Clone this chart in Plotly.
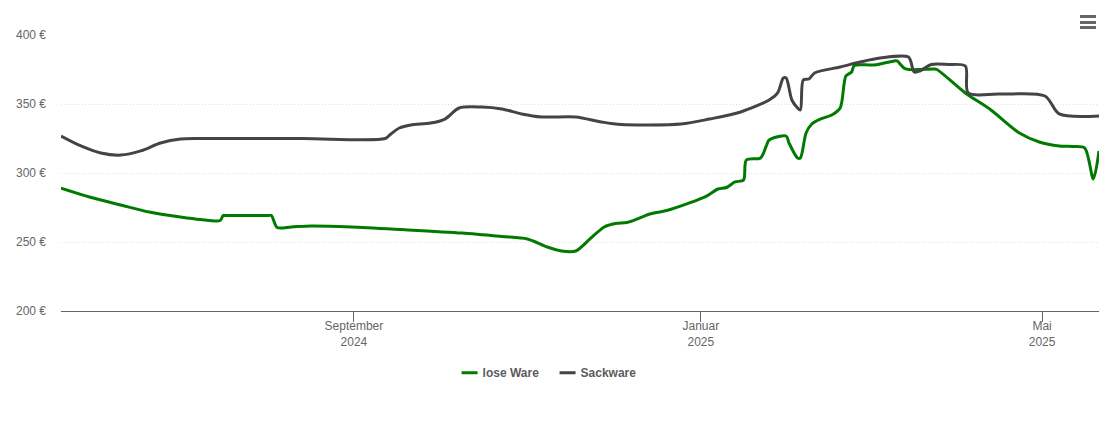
import plotly.graph_objects as go

# Preisverlauf, Werte
lose_dates = [
    "2024-05-21", "2024-05-31", "2024-06-11", "2024-06-21", "2024-07-02", "2024-07-09", "2024-07-16", "2024-07-17",
    "2024-07-18", "2024-07-23", "2024-08-02", "2024-08-03", "2024-08-05", "2024-08-10", "2024-08-17", "2024-08-31", "2024-09-18", "2024-10-09",
    "2024-10-23", "2024-11-01", "2024-11-08", "2024-11-13", "2024-11-18", "2024-11-23", "2024-11-28", "2024-12-02",
    "2024-12-06", "2024-12-10", "2024-12-14", "2024-12-20", "2024-12-28", "2025-01-03", "2025-01-07", "2025-01-10",
    "2025-01-13", "2025-01-16", "2025-01-17", "2025-01-22", "2025-01-24", "2025-01-25", "2025-01-31", "2025-02-01",
    "2025-02-04", "2025-02-05", "2025-02-07", "2025-02-09", "2025-02-12", "2025-02-16", "2025-02-19", "2025-02-21",
    "2025-02-23", "2025-02-24", "2025-03-03", "2025-03-10", "2025-03-11", "2025-03-14", "2025-03-24", "2025-03-25",
    "2025-04-04", "2025-04-13", "2025-04-23", "2025-04-30", "2025-05-07", "2025-05-12", "2025-05-16", "2025-05-19",
    "2025-05-21",
]
lose_ware = [
    289, 282.6, 276.8, 271.7, 268.1, 266.3, 265.6, 269.2,
    269.2, 269.2, 269.2, 269.2, 260.5, 260.9, 261.6, 260.9, 259, 256.5,
    254, 252.2, 246.4, 243.5, 243.5, 252.2, 260.9, 263.4,
    264.1, 267, 270.3, 272.8, 278.3, 283.3, 288.4, 289.5,
    293.5, 294.9, 309.4, 310.9, 319.6, 323.9, 326.8, 321.7,
    310.9, 310.9, 329, 335.5, 339.1, 342, 347.1, 370.3,
    373.2, 377.9, 378.3, 381.2, 381.2, 375.4, 375.4, 375,
    358, 345.7, 329, 322.5, 319.6, 319.2, 318.1, 295.7,
    316,
]

sack_dates = [
    "2024-05-21", "2024-05-28", "2024-06-04", "2024-06-11", "2024-06-18", "2024-06-25", "2024-07-02", "2024-07-09",
    "2024-08-14", "2024-09-12", "2024-09-14", "2024-09-17", "2024-09-21", "2024-09-28", "2024-10-03", "2024-10-08",
    "2024-10-16", "2024-10-23", "2024-10-30", "2024-11-06", "2024-11-18", "2024-11-27", "2024-12-04", "2024-12-25",
    "2025-01-04", "2025-01-15", "2025-01-25", "2025-01-28", "2025-01-30", "2025-01-31", "2025-02-02", "2025-02-04",
    "2025-02-05", "2025-02-06", "2025-02-08", "2025-02-10", "2025-02-19", "2025-02-26", "2025-03-05", "2025-03-15",
    "2025-03-17", "2025-03-19", "2025-03-23", "2025-03-29", "2025-04-04", "2025-04-05", "2025-04-16", "2025-05-02",
    "2025-05-07", "2025-05-21",
]
sackware = [
    326.8, 319.6, 314.5, 313, 316, 321.7, 324.6, 325,
    325, 325, 328.3, 332.6, 334.8, 336.2, 339.1, 347.1,
    347.8, 346.4, 342.8, 340.6, 340.6, 337, 335.1, 335.5,
    339.1, 344.2, 352.9, 358, 368.8, 368.8, 352.9, 347.1,
    345.7, 367.4, 368.1, 372.5, 376.8, 380.4, 383.3, 384,
    373.2, 373.9, 378.6, 378.6, 377.5, 358, 357.2, 355.8,
    342.8, 341.3,
]

x_ticks = ["2024-09-01", "2025-01-01", "2025-05-01"]
x_labels = ["September<br>2024", "Januar<br>2025", "Mai<br>2025"]
y_ticks = [200, 250, 300, 350, 400]
y_labels = ["200 €", "250 €", "300 €", "350 €", "400 €"]

fig = go.Figure()
fig.add_trace(go.Scatter(x=lose_dates, y=lose_ware, name="<b>lose Ware</b>", mode="lines",
                         line=dict(color="#007a00", width=3, shape="spline", smoothing=0.8)))
fig.add_trace(go.Scatter(x=sack_dates, y=sackware, name="<b>Sackware</b>", mode="lines",
                         line=dict(color="#434348", width=3, shape="spline", smoothing=0.8)))

# die Seite hat 8px Rand im body, deshalb kleinere Figur
fig.update_layout(
    width=1102, height=414,
    margin=dict(l=53, r=11, t=27, b=111),
    paper_bgcolor="white", plot_bgcolor="white",
    font=dict(family="Liberation Sans, Arial, sans-serif", size=12, color="#666666"),
    showlegend=True,
    legend=dict(orientation="h", x=0.462, xanchor="center", y=-0.171, yanchor="top",
                font=dict(size=12, color="#5c5c5c"), itemwidth=30,
                entrywidth=53, entrywidthmode="pixels"),
    hovermode="x",
)
fig.update_xaxes(
    type="date", range=["2024-05-21", "2025-05-21"], automargin=False,
    tickmode="array", tickvals=x_ticks, ticktext=x_labels,
    ticks="outside", ticklen=10, tickcolor="#666666", tickwidth=1,
    ticklabelstandoff=-6,
    showgrid=False, showline=True, linecolor="#666666", linewidth=1, zeroline=False,
)
fig.update_yaxes(
    range=[200, 400], automargin=False,
    tickmode="array", tickvals=y_ticks, ticktext=y_labels,
    ticks="", ticklabelstandoff=14,
    showgrid=True, gridcolor="#e0e0e0", griddash="1px,2px", gridwidth=1,
    zeroline=False, showline=False,
)

# Menue-Symbol oben rechts
for y0 in (15, 21, 26):
    fig.add_shape(type="rect", xref="paper", yref="paper",
                  x0=(1080 - 61) / 1038, x1=(1096 - 61) / 1038,
                  y0=(311 - y0) / 276, y1=(311 - y0 - 3) / 276,
                  fillcolor="#666666", line=dict(width=0), layer="above")

# Legendenlinien kuerzer, plotly erlaubt nur mindestens 30px
short_lines = """
document.querySelectorAll('.legendlines path').forEach(function (p) {
    p.setAttribute('d', 'M19,0h16');
});
"""

fig.write_html("out.html", config=dict(displayModeBar=False), post_script=short_lines)
